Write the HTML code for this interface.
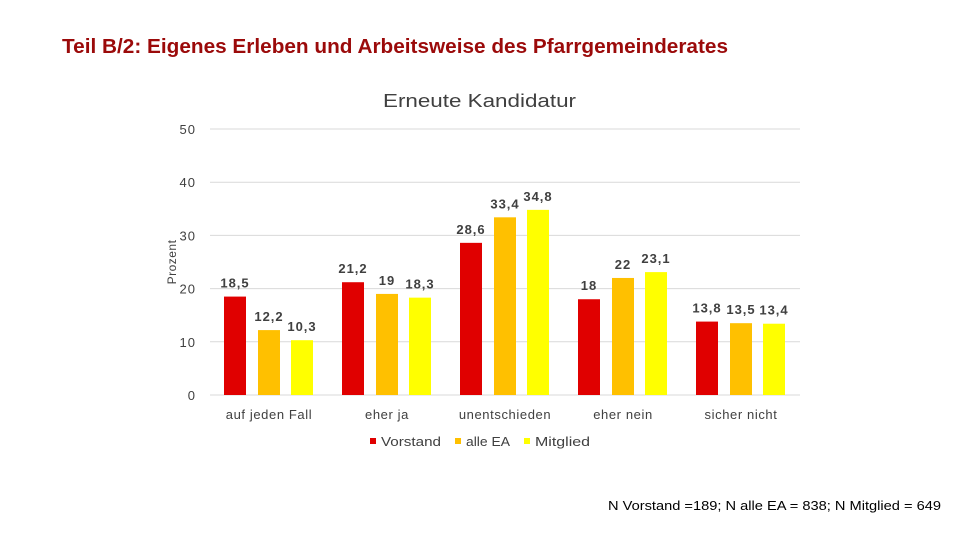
<!DOCTYPE html>
<html><head><meta charset="utf-8"><style>
body{margin:0;background:#fff;font-family:"Liberation Sans",sans-serif}
#wrap{position:relative;width:960px;height:540px;overflow:hidden}
</style></head><body>
<div id="wrap">
<svg id="chart" width="960" height="540" style="position:absolute;left:0;top:0">
<text x="62" y="53" font-size="20" font-weight="bold" fill="#9b0a0a" textLength="666" lengthAdjust="spacingAndGlyphs">Teil B/2: Eigenes Erleben und Arbeitsweise des Pfarrgemeinderates</text>
<text x="383" y="107" font-size="18" fill="#404040" textLength="193" lengthAdjust="spacingAndGlyphs">Erneute Kandidatur</text>
<text transform="translate(176,262) rotate(-90)" font-size="12" fill="#404040" text-anchor="middle" letter-spacing="0.5">Prozent</text>
<g id="grid"></g><g id="bars"></g>
<g>
<rect x="370" y="438" width="6" height="6" fill="#e00000"/>
<text x="381" y="446" font-size="13" fill="#404040" textLength="60" lengthAdjust="spacingAndGlyphs">Vorstand</text>
<rect x="455" y="438" width="6" height="6" fill="#ffc000"/>
<text x="466" y="446" font-size="13" fill="#404040" textLength="44" lengthAdjust="spacingAndGlyphs">alle EA</text>
<rect x="524" y="438" width="6" height="6" fill="#ffff00"/>
<text x="535" y="446" font-size="13" fill="#404040" textLength="55" lengthAdjust="spacingAndGlyphs">Mitglied</text>
</g>
<text x="608" y="510" font-size="13" fill="#000" textLength="333" lengthAdjust="spacingAndGlyphs">N Vorstand =189; N alle EA = 838; N Mitglied = 649</text>
</svg>
</div>
<script>
const categories=["auf jeden Fall","eher ja","unentschieden","eher nein","sicher nicht"];
const vorstand=[18.5,21.2,28.6,18,13.8];
const alleEA=[12.2,19,33.4,22,13.5];
const mitglied=[10.3,18.3,34.8,23.1,13.4];
const yTicks=[0,10,20,30,40,50];
const NS="http://www.w3.org/2000/svg";
const x0=210,x1=800,yBase=395,yTop=129,yMax=50;
const y=v=>yBase-(v/yMax)*(yBase-yTop);
const band=(x1-x0)/categories.length;
const cx=i=>x0+band*(i+0.5);
function mk(t,a,p){const e=document.createElementNS(NS,t);for(const k in a)e.setAttribute(k,a[k]);p.appendChild(e);return e;}
const grid=document.getElementById('grid'),bars=document.getElementById('bars');
yTicks.forEach(t=>{
 const l=mk('line',{x1:x0,x2:x1,y1:y(t),y2:y(t),stroke:'#d9d9d9','stroke-width':1},grid);
 
 
 const tx=mk('text',{x:196,y:y(t)+5,'font-size':13,fill:'#404040','text-anchor':'end','letter-spacing':1},grid);
 tx.textContent=t;
 
 
});
const series=[{n:'vorstand',d:vorstand,c:'#e00000',o:-34},{n:'alle-ea',d:alleEA,c:'#ffc000',o:0},{n:'mitglied',d:mitglied,c:'#ffff00',o:33}];
categories.forEach((c,i)=>{
 series.forEach(s=>{
  const v=s.d[i],bx=cx(i)+s.o-11;
  const r=mk('rect',{x:bx,y:y(v),width:22,height:yBase-y(v),fill:s.c},bars);
  
  
  const t=mk('text',{x:bx+11,y:y(v)-9,'font-size':13,fill:'#404040','text-anchor':'middle','letter-spacing':1,'font-weight':'bold'},bars);
  t.textContent=String(v).replace('.',',');
  
  
 });
 const t=mk('text',{x:cx(i),y:419,'font-size':13,fill:'#404040','text-anchor':'middle','letter-spacing':0.6},bars);
 t.textContent=c;
 
 
});
</script>
</body></html>
